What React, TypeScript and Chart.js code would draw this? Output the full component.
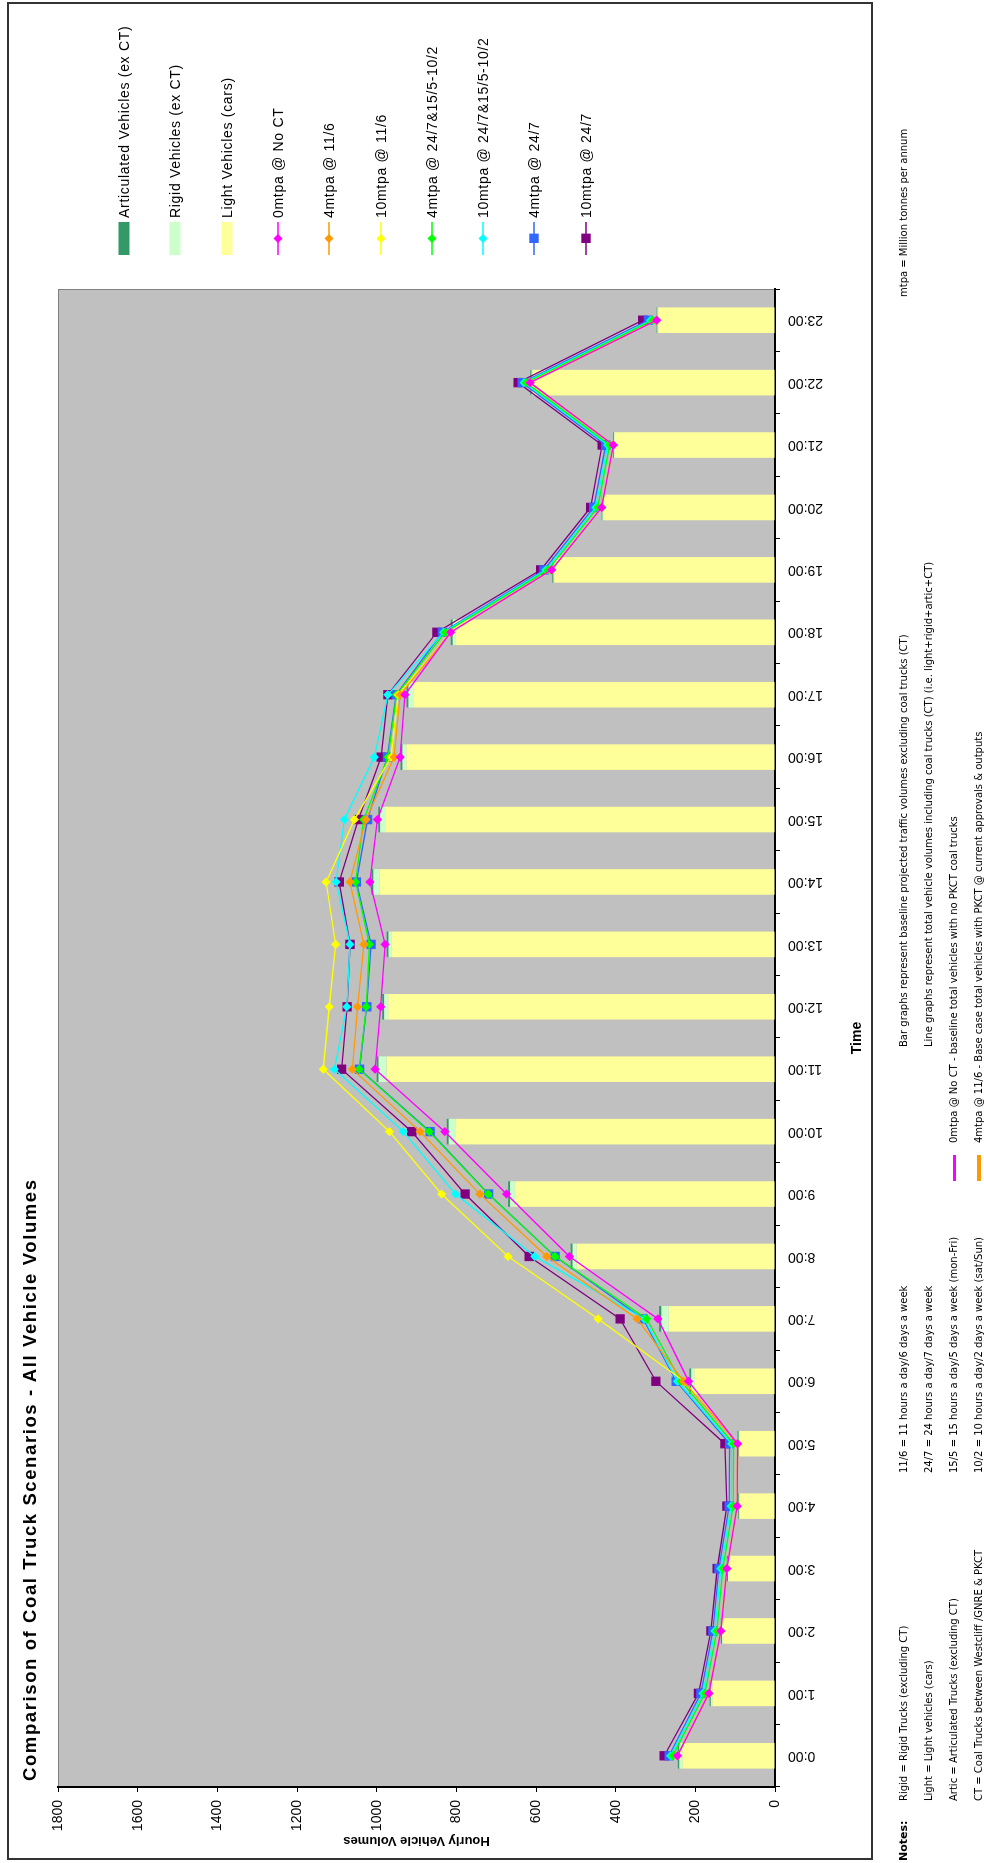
import React, { useEffect, useRef } from 'react';
import { Chart, registerables } from 'chart.js';

Chart.register(...registerables);

// ---------- DATA ----------
const hours = ['0:00', '1:00', '2:00', '3:00', '4:00', '5:00', '6:00', '7:00', '8:00', '9:00', '10:00', '11:00',
  '12:00', '13:00', '14:00', '15:00', '16:00', '17:00', '18:00', '19:00', '20:00', '21:00', '22:00', '23:00'];

const lightVehicles = [232, 157, 130, 115, 88, 88, 202, 267, 498, 653, 803, 975, 971, 962, 993, 979, 925, 908, 801, 554, 431, 402, 608, 293];
const rigidVehicles = [8, 4, 3, 3, 2, 3, 8, 18, 10, 12, 16, 20, 10, 8, 15, 12, 10, 12, 8, 2, 2, 2, 3, 2];
const articVehicles = [4, 3, 3, 3, 2, 3, 5, 6, 5, 5, 5, 5, 5, 5, 5, 5, 5, 5, 5, 3, 2, 2, 3, 2];

const noCT = [245, 166, 136, 121, 95, 94, 217, 294, 516, 674, 829, 1004, 990, 979, 1017, 998, 941, 929, 814, 561, 435, 406, 615, 297];
const mt4at116 = [245, 166, 136, 121, 95, 94, 230, 346, 573, 741, 891, 1061, 1048, 1032, 1067, 1027, 956, 941, 814, 561, 435, 406, 615, 297];
const mt10at116 = [245, 166, 136, 121, 95, 94, 228, 444, 670, 837, 968, 1134, 1119, 1103, 1127, 1056, 964, 946, 814, 561, 435, 406, 615, 297];
const mt4at247mix = [257, 176, 146, 131, 105, 104, 236, 322, 552, 720, 868, 1044, 1026, 1018, 1053, 1033, 971, 950, 828, 570, 445, 415, 625, 307];
const mt10at247mix = [262, 181, 151, 136, 110, 109, 245, 328, 603, 802, 933, 1106, 1075, 1067, 1102, 1081, 1006, 972, 832, 575, 450, 420, 630, 312];
const mt4at247 = [266, 186, 156, 141, 115, 114, 248, 331, 552, 719, 866, 1043, 1025, 1014, 1051, 1023, 973, 951, 835, 580, 455, 425, 635, 318];
const mt10at247 = [278, 192, 161, 145, 121, 126, 299, 389, 617, 778, 912, 1088, 1074, 1067, 1094, 1046, 989, 972, 849, 588, 463, 434, 645, 332];

const valueTicks = [0, 200, 400, 600, 800, 1000, 1200, 1400, 1600, 1800];

const chartTitle = 'Comparison of Coal Truck Scenarios - All Vehicle Volumes';
const yTitle = 'Hourly Vehicle Volumes';
const xTitle = 'Time';

type LegendItem = { label: string; kind: 'bar' | 'diamond' | 'square'; color: string };
const legendItems: LegendItem[] = [
  { label: 'Articulated Vehicles (ex CT)', kind: 'bar', color: '#339966' },
  { label: 'Rigid Vehicles (ex CT)', kind: 'bar', color: '#CCFFCC' },
  { label: 'Light Vehicles (cars)', kind: 'bar', color: '#FFFF99' },
  { label: '0mtpa @ No CT', kind: 'diamond', color: '#FF00FF' },
  { label: '4mtpa @ 11/6', kind: 'diamond', color: '#FF9900' },
  { label: '10mtpa @ 11/6', kind: 'diamond', color: '#FFFF00' },
  { label: '4mtpa @ 24/7&15/5-10/2', kind: 'diamond', color: '#00FF00' },
  { label: '10mtpa @ 24/7&15/5-10/2', kind: 'diamond', color: '#00FFFF' },
  { label: '4mtpa @ 24/7', kind: 'square', color: '#3366FF' },
  { label: '10mtpa @ 24/7', kind: 'square', color: '#800080' },
];

const notesCol1 = ['Rigid = Rigid Trucks (excluding CT)', 'Light = Light vehicles (cars)',
  'Artic = Articulated Trucks (excluding CT)', 'CT = Coal Trucks between Westcliff /GNRE & PKCT'];
const notesCol2 = ['11/6 = 11 hours a day/6 days a week', '24/7 = 24 hours a day/7 days a week',
  '15/5 = 15 hours a day/5 days a week (mon-Fri)', '10/2 = 10 hours a day/2 days a week (sat/Sun)'];
const notesCol3 = ['Bar graphs represent baseline projected traffic volumes excluding coal trucks (CT)',
  'Line graphs represent total vehicle volumes including coal trucks (CT) (i.e. light+rigid+artic+CT)'];
const notesCol3b = ['0mtpa @ No CT - baseline total vehicles with no PKCT coal trucks',
  '4mtpa @ 11/6 - Base case total vehicles with PKCT @ current approvals & outputs'];
const mtpaNote = 'mtpa = Million tonnes per annum';

// ---------- LAYOUT (landscape coordinates, before rotation) ----------
const W = 1863;
const H = 984;
const FONT = "'Liberation Sans', Arial, sans-serif";
const NOTE_FONT = "'DejaVu Sans', Verdana, sans-serif";

const plotBg = {
  id: 'plotBg',
  beforeDraw(chart: any) {
    const { ctx, chartArea: a } = chart;
    ctx.save();
    ctx.fillStyle = '#C0C0C0';
    ctx.fillRect(a.left, a.top, a.right - a.left, a.bottom - a.top);
    ctx.strokeStyle = '#808080';
    ctx.lineWidth = 1;
    ctx.strokeRect(a.left + 0.5, a.top + 0.5, a.right - a.left - 1, a.bottom - a.top - 1);
    ctx.restore();
  },
};

function LegendIcon({ item }: { item: LegendItem }) {
  if (item.kind === 'bar') {
    return (
      <svg width={33} height={16} style={{ display: 'block' }}>
        <rect x={0} y={2.5} width={33} height={11} fill={item.color} />
      </svg>
    );
  }
  return (
    <svg width={33} height={16} style={{ display: 'block' }}>
      <line x1={0} y1={8} x2={33} y2={8} stroke={item.color} strokeWidth={1.3} />
      {item.kind === 'diamond' ? (
        <polygon points="16.5,3.5 21,8 16.5,12.5 12,8" fill={item.color} />
      ) : (
        <rect x={12} y={3.3} width={9.4} height={9.4} fill={item.color} />
      )}
    </svg>
  );
}

export default function App() {
  const ref = useRef<HTMLCanvasElement>(null);

  useEffect(() => {
    const canvas = ref.current;
    if (!canvas) return;
    const lineDs = (label: string, data: number[], color: string, style: string, radius: number, order: number) => ({
      type: 'line' as const,
      label,
      data,
      borderColor: color,
      backgroundColor: color,
      borderWidth: 1.3,
      pointStyle: style,
      pointRadius: radius,
      pointHoverRadius: radius,
      pointBorderWidth: 0,
      pointBackgroundColor: color,
      pointBorderColor: color,
      tension: 0,
      fill: false,
      stack: 'line-' + label,
      order,
    });
    const barDs = (label: string, data: number[], color: string) => ({
      type: 'bar' as const,
      label,
      data,
      backgroundColor: color,
      borderWidth: 0,
      stack: 'bars',
      order: 100,
      barPercentage: 0.41,
      categoryPercentage: 1,
    });

    const chart = new Chart(canvas, {
      type: 'bar',
      data: {
        labels: hours,
        datasets: [
          barDs('Light Vehicles (cars)', lightVehicles, '#FFFF99'),
          barDs('Rigid Vehicles (ex CT)', rigidVehicles, '#CCFFCC'),
          barDs('Articulated Vehicles (ex CT)', articVehicles, '#339966'),
          lineDs('0mtpa @ No CT', noCT, '#FF00FF', 'rectRot', 4.6, 1),
          lineDs('4mtpa @ 11/6', mt4at116, '#FF9900', 'rectRot', 4.6, 2),
          lineDs('10mtpa @ 11/6', mt10at116, '#FFFF00', 'rectRot', 4.6, 3),
          lineDs('4mtpa @ 24/7&15/5-10/2', mt4at247mix, '#00FF00', 'rectRot', 4.6, 4),
          lineDs('10mtpa @ 24/7&15/5-10/2', mt10at247mix, '#00FFFF', 'rectRot', 4.6, 5),
          lineDs('4mtpa @ 24/7', mt4at247, '#3366FF', 'rect', 6.6, 6),
          lineDs('10mtpa @ 24/7', mt10at247, '#800080', 'rect', 6.6, 7),
        ] as any,
      },
      options: {
        animation: false,
        responsive: false,
        devicePixelRatio: 1,
        events: [],
        layout: { padding: { left: 0, top: 58, right: W - 1574, bottom: 0 } },
        plugins: {
          legend: { display: false },
          tooltip: { enabled: false },
          title: { display: false },
        },
        scales: {
          x: {
            type: 'category',
            offset: true,
            grid: { display: true, offset: true, drawOnChartArea: false, drawTicks: true, tickLength: 5, color: '#000', lineWidth: 1 },
            border: { display: true, color: '#000', width: 2 },
            ticks: {
              autoSkip: false, minRotation: 90, maxRotation: 90, padding: 8,
              color: '#000', font: { family: FONT, size: 14 },
            },
            title: {
              display: true, text: xTitle, color: '#000',
              font: { family: FONT, size: 14, weight: 'bold' },
              padding: { top: 0, bottom: 118 },
            },
            afterFit: (s: any) => { s.height = H - 775; },
          },
          y: {
            type: 'linear',
            stacked: true,
            min: 0,
            max: 1800,
            afterBuildTicks: (s: any) => { s.ticks = valueTicks.map((v) => ({ value: v })); },
            grid: { display: true, drawOnChartArea: false, drawTicks: true, tickLength: 5, color: '#000', lineWidth: 1 },
            border: { display: true, color: '#000', width: 2 },
            ticks: {
              padding: 8, color: '#000', font: { family: FONT, size: 14 },
              callback: (v: any) => String(v),
            },
            title: {
              display: true, text: yTitle, color: '#000',
              font: { family: FONT, size: 13, weight: 'bold' },
              padding: { top: 15, bottom: 0 },
            },
            afterFit: (s: any) => { s.width = 76; },
          },
        },
      } as any,
      plugins: [plotBg],
    });
    return () => chart.destroy();
  }, []);

  const rows = [904, 929, 954, 979];
  const noteStyle = (u: number, v: number, extra: React.CSSProperties = {}): React.CSSProperties => ({
    position: 'absolute', left: u, top: v - 7, height: 14, lineHeight: '14px', fontSize: 10,
    fontFamily: NOTE_FONT, color: '#000', whiteSpace: 'nowrap', ...extra,
  });

  return (
    <div style={{ position: 'fixed', left: 0, top: 0, width: 984, height: 1863, overflow: 'hidden', background: '#fff' }}>
      <div
        style={{
          position: 'absolute', left: 0, top: 0, width: W, height: H,
          transformOrigin: '0 0', transform: `translateY(${W}px) rotate(-90deg)`, background: '#fff',
        }}
      >
        <div style={{ position: 'absolute', left: 3, top: 7, width: 1858, height: 866, border: '2px solid #333', boxSizing: 'border-box' }} />
        <canvas ref={ref} width={W} height={H} style={{ position: 'absolute', left: 0, top: 0, width: W, height: H }} />
        <div style={{ position: 'absolute', left: 82, top: 18, lineHeight: '24px', fontSize: 18.5, letterSpacing: 1.6, fontWeight: 'bold', fontFamily: FONT, color: '#000', whiteSpace: 'nowrap' }}>
          {chartTitle}
        </div>
        {legendItems.map((it, i) => {
          const v = 124 + i * 51.3;
          return (
            <div key={it.label} style={{ position: 'absolute', left: 1608, top: v - 9, height: 18, display: 'flex', alignItems: 'center' }}>
              <LegendIcon item={it} />
              <span style={{ marginLeft: 4, fontFamily: FONT, fontSize: 14, letterSpacing: 0.7, lineHeight: '18px', color: '#000', whiteSpace: 'nowrap' }}>{it.label}</span>
            </div>
          );
        })}
        <div style={noteStyle(1566, 904)}>{mtpaNote}</div>
        <div style={noteStyle(2, 904, { fontWeight: 'bold', fontSize: 11 })}>Notes:</div>
        {notesCol1.map((t, i) => <div key={t} style={noteStyle(62, rows[i])}>{t}</div>)}
        {notesCol2.map((t, i) => <div key={t} style={noteStyle(390, rows[i])}>{t}</div>)}
        {notesCol3.map((t, i) => <div key={t} style={noteStyle(816, rows[i])}>{t}</div>)}
        {notesCol3b.map((t, i) => <div key={t} style={noteStyle(720, rows[i + 2])}>{t}</div>)}
        <div style={{ position: 'absolute', left: 682, top: rows[2] - 1.5, width: 26, height: 3, background: '#FF00FF' }} />
        <div style={{ position: 'absolute', left: 682, top: rows[3] - 2, width: 26, height: 4, background: '#FF9900' }} />
      </div>
    </div>
  );
}
